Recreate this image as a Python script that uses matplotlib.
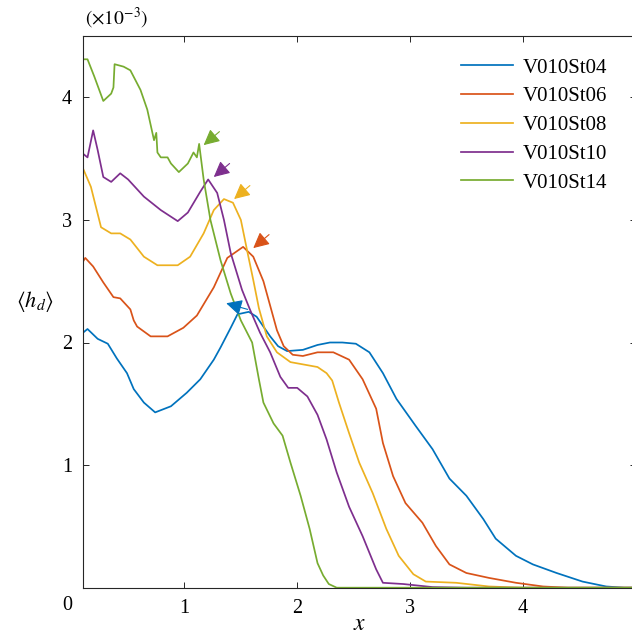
import matplotlib
matplotlib.use("Agg")
import matplotlib.pyplot as plt

# ------------------------------------------------------------
# DATA  (<h_d> values in units of 1e-3)
# ------------------------------------------------------------
x_St04 = [0.10, 0.14, 0.23, 0.32, 0.40, 0.49, 0.55, 0.64, 0.74, 0.88,
          1.02, 1.14, 1.26, 1.32, 1.41, 1.47, 1.57, 1.64, 1.70, 1.76,
          1.83, 1.91, 2.05, 2.18, 2.29, 2.40, 2.52, 2.64, 2.76, 2.88,
          3.05, 3.20, 3.35, 3.50, 3.65, 3.76, 3.94, 4.09, 4.30, 4.53,
          4.74, 4.90, 5.00]
hd_St04 = [2.08, 2.11, 2.03, 1.99, 1.87, 1.75, 1.62, 1.51, 1.43, 1.48,
           1.59, 1.70, 1.86, 1.96, 2.12, 2.23, 2.25, 2.21, 2.13, 2.05,
           1.97, 1.93, 1.94, 1.98, 2.00, 2.00, 1.99, 1.92, 1.75, 1.54,
           1.32, 1.13, 0.89, 0.75, 0.56, 0.40, 0.26, 0.19, 0.12, 0.05,
           0.01, 0.0, 0.0]

x_St06 = [0.10, 0.12, 0.19, 0.28, 0.37, 0.43, 0.52, 0.55, 0.58, 0.70,
          0.85, 0.99, 1.11, 1.26, 1.38, 1.52, 1.61, 1.70, 1.76, 1.82,
          1.88, 1.96, 2.05, 2.18, 2.32, 2.46, 2.58, 2.70, 2.76, 2.85,
          2.96, 3.11, 3.23, 3.35, 3.50, 3.70, 3.94, 4.18, 4.40, 5.00]
hd_St06 = [2.66, 2.69, 2.62, 2.49, 2.37, 2.36, 2.27, 2.18, 2.13, 2.05,
           2.05, 2.12, 2.22, 2.45, 2.69, 2.78, 2.70, 2.50, 2.30, 2.10,
           1.97, 1.90, 1.89, 1.92, 1.92, 1.86, 1.70, 1.46, 1.18, 0.91,
           0.69, 0.53, 0.34, 0.19, 0.12, 0.08, 0.04, 0.01, 0.0, 0.0]

x_St08 = [0.10, 0.17, 0.26, 0.35, 0.43, 0.52, 0.64, 0.76, 0.94, 1.05,
          1.17, 1.26, 1.35, 1.43, 1.50, 1.56, 1.61, 1.66, 1.73, 1.82,
          1.94, 2.06, 2.18, 2.26, 2.31, 2.37, 2.46, 2.55, 2.67, 2.79,
          2.90, 3.03, 3.14, 3.41, 3.70, 4.00, 5.00]
hd_St08 = [3.42, 3.27, 2.94, 2.89, 2.89, 2.84, 2.70, 2.63, 2.63, 2.70,
           2.89, 3.08, 3.17, 3.14, 3.00, 2.73, 2.51, 2.28, 2.05, 1.92,
           1.84, 1.82, 1.80, 1.75, 1.69, 1.51, 1.26, 1.02, 0.77, 0.48,
           0.26, 0.11, 0.05, 0.04, 0.01, 0.0, 0.0]

x_St10 = [0.10, 0.14, 0.19, 0.23, 0.28, 0.35, 0.43, 0.50, 0.64, 0.79,
          0.94, 1.03, 1.14, 1.21, 1.29, 1.35, 1.41, 1.51, 1.58, 1.67,
          1.76, 1.85, 1.92, 2.00, 2.09, 2.18, 2.26, 2.35, 2.46, 2.58,
          2.70, 2.76, 2.94, 3.20, 3.50, 5.00]
hd_St10 = [3.54, 3.51, 3.73, 3.57, 3.35, 3.31, 3.38, 3.33, 3.19, 3.08,
           2.99, 3.06, 3.23, 3.33, 3.22, 3.00, 2.73, 2.43, 2.27, 2.08,
           1.92, 1.72, 1.63, 1.63, 1.56, 1.41, 1.21, 0.94, 0.66, 0.42,
           0.15, 0.04, 0.03, 0.005, 0.0, 0.0]

x_St14 = [0.10, 0.14, 0.20, 0.28, 0.35, 0.37, 0.38, 0.46, 0.52, 0.61,
          0.67, 0.73, 0.75, 0.76, 0.79, 0.85, 0.88, 0.95, 1.03, 1.08,
          1.11, 1.13, 1.17, 1.23, 1.32, 1.41, 1.50, 1.60, 1.66, 1.70,
          1.79, 1.87, 1.94, 2.03, 2.11, 2.18, 2.23, 2.28, 2.35, 5.00]
hd_St14 = [4.31, 4.31, 4.17, 3.97, 4.03, 4.08, 4.27, 4.25, 4.22, 4.06,
           3.90, 3.65, 3.71, 3.55, 3.51, 3.51, 3.46, 3.39, 3.46, 3.55,
           3.51, 3.62, 3.33, 3.00, 2.67, 2.40, 2.18, 2.00, 1.70, 1.51,
           1.34, 1.24, 1.02, 0.75, 0.48, 0.20, 0.10, 0.03, 0.0, 0.0]

labels = ["V010St04", "V010St06", "V010St08", "V010St10", "V010St14"]
colors = ["#0072BD", "#D95319", "#EDB120", "#7E2F8E", "#77AC30"]

# arrow (tip, tail) positions marking each peak
arrow_tips = [(1.37, 2.32), (1.61, 2.77), (1.44, 3.17), (1.26, 3.35), (1.17, 3.61)]
arrow_tails = [(1.56, 2.27), (1.75, 2.88), (1.58, 3.28), (1.40, 3.46), (1.31, 3.72)]

# ------------------------------------------------------------
# PLOT
# ------------------------------------------------------------
plt.rcParams["font.family"] = ["Liberation Serif", "DejaVu Serif"]
plt.rcParams["mathtext.fontset"] = "stix"

fig = plt.figure(figsize=(6.32, 6.36), dpi=100)
ax = fig.add_axes([83 / 632, 48.3 / 636, 552.5 / 632, 551.7 / 636])

xs = [x_St04, x_St06, x_St08, x_St10, x_St14]
ys = [hd_St04, hd_St06, hd_St08, hd_St10, hd_St14]
for xv, yv, lab, col in zip(xs, ys, labels, colors):
    ax.plot(xv, yv, color=col, lw=1.25, label=lab)

for tip, tail, col in zip(arrow_tips, arrow_tails, colors):
    ax.annotate("", xy=tip, xytext=tail,
                arrowprops=dict(arrowstyle="-|>,head_length=0.6,head_width=0.3",
                                color=col, lw=0.8, mutation_scale=16,
                                shrinkA=0, shrinkB=0))

ax.set_xlim(0.1, 5)
ax.set_ylim(0, 4.5)
ax.set_xticks([1, 2, 3, 4, 5])
ax.set_yticks([1, 2, 3, 4])
ax.tick_params(direction="in", length=4.3, width=0.7, colors="#262626",
               labelsize=14.5, pad=8, top=True, right=True)
ax.tick_params(labelcolor="black")
for sp in ax.spines.values():
    sp.set_linewidth(0.8)
    sp.set_color("#262626")

ax.annotate("0", xy=(0, 0), xycoords="axes fraction", xytext=(-16, -18),
            textcoords="offset pixels", ha="center", va="center", fontsize=14.5)

ax.set_xlabel(r"$x$", fontsize=17, labelpad=-2.5)
ax.set_ylabel(r"$\langle h_d \rangle$", fontsize=16, rotation=0, va="center", ha="center")
ax.yaxis.set_label_coords((35 - 83) / 552.5, (587.7 - 302) / 551.7)
fig.text(85 / 632, 1 - 18 / 636, r"$(\times 10^{-3})$", fontsize=14, ha="left", va="center")

ax.legend(loc="upper left", bbox_to_anchor=(461 / 632, 1 - 58 / 636),
          bbox_transform=fig.transFigure, frameon=False, fontsize=15,
          handlelength=2.5, handletextpad=0.45, labelspacing=0.44,
          borderpad=0, borderaxespad=0)

fig.savefig("out.png", dpi=100)
